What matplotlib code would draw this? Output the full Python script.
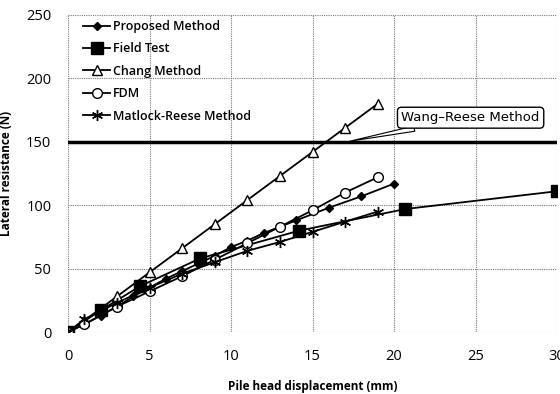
import matplotlib.pyplot as plt

plt.rcParams['font.family'] = ['Open Sans', 'DejaVu Sans']

# Proposed Method
prop_x = [0, 1, 2, 3, 4, 5, 6, 7, 8, 9, 10, 11, 12, 13, 14, 16, 18, 20]
prop_y = [0, 6, 13, 20, 28, 35, 42, 48, 54, 60, 67, 72, 78, 83, 88, 98, 107, 117]

# Field Test
field_x = [0, 2, 4.4, 8.1, 14.2, 20.7, 30]
field_y = [0, 17, 36, 58, 80, 97, 111]

# Chang Method
chang_x = [0, 1, 3, 5, 7, 9, 11, 13, 15, 17, 19]
chang_y = [0, 9, 28, 47, 66, 85, 104, 123, 142, 161, 180]

# FDM
fdm_x = [0, 1, 3, 5, 7, 9, 11, 13, 15, 17, 19]
fdm_y = [0, 6, 20, 32, 44, 57, 70, 83, 96, 110, 122]

# Matlock-Reese Method
mr_x = [0, 1, 3, 5, 7, 9, 11, 13, 15, 17, 19]
mr_y = [0, 10, 23, 35, 46, 55, 64, 71, 79, 87, 95]

wang_reese = 150

fig = plt.figure(figsize=(5.6, 3.94), dpi=100)
ax = fig.add_axes([68 / 560, 1 - 332 / 394, (557 - 68) / 560, (332 - 15) / 394])

lw = 1.3
ax.plot(prop_x, prop_y, color='black', lw=lw, marker='D', markersize=4.5,
        label='Proposed Method', zorder=5)
ax.plot(field_x, field_y, color='black', lw=lw, marker='s', markersize=8,
        label='Field Test', zorder=5)
ax.plot(chang_x, chang_y, color='black', lw=lw, marker='^', markersize=7,
        markerfacecolor='white', label='Chang Method', zorder=5)
ax.plot(fdm_x, fdm_y, color='black', lw=lw, marker='o', markersize=7,
        markerfacecolor='white', label='FDM', zorder=5)
ax.plot(mr_x, mr_y, color='black', lw=lw, marker=(6, 2, 0), markersize=8,
        label='Matlock-Reese Method', zorder=5)

ax.axhline(wang_reese, color='black', lw=2.5, zorder=4)

ax.annotate('Wang\u2013Reese Method', xy=(17.3, 150.5), xytext=(24.7, 169),
            ha='center', va='center', fontsize=9.5, family='DejaVu Sans',
            bbox=dict(boxstyle='round,pad=0.3', fc='white', ec='black', lw=1),
            arrowprops=dict(arrowstyle='wedge,tail_width=0.4', fc='white',
                            ec='black', lw=0.8, shrinkA=0, shrinkB=0),
            zorder=6)

ax.set_xlim(0, 30)
ax.set_ylim(0, 250)
ax.set_xticks(range(0, 31, 5))
ax.set_yticks(range(0, 251, 50))
ax.grid(True, color='#777777', linestyle=(0, (1, 1)), lw=0.8)
for s in ax.spines.values():
    s.set_visible(False)
ax.tick_params(length=0, labelsize=10.5, pad=12)
ax.tick_params(axis='y', pad=12)

ax.set_xlabel('Pile head displacement (mm)', fontsize=8.5, fontweight='bold', labelpad=12)
ax.set_ylabel('Lateral resistance (N)', fontsize=8.5, fontweight='bold')
ax.yaxis.set_label_coords(-0.112, 0.5)

ax.legend(loc='upper left', frameon=False,
          prop={'weight': 'semibold', 'size': 9}, handlelength=2.2,
          labelspacing=0.75, borderaxespad=0.1, borderpad=0.3,
          handletextpad=0.2, bbox_to_anchor=(0.02, 1.0))

fig.savefig('out.png', dpi=100)
